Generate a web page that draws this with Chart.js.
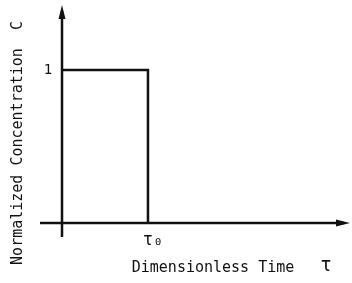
<!DOCTYPE html>
<html>
<head>
<meta charset="utf-8">
<script src="https://cdn.jsdelivr.net/npm/chart.js@4/dist/chart.umd.min.js"></script>
<style>
  html, body { margin: 0; padding: 0; background: #fff; }
  #wrap { width: 352px; height: 283px; }
</style>
</head>
<body>
<div id="wrap"><canvas id="c"></canvas></div>
<script>
// данные: прямоугольный импульс
const tau = [0, 1, 1];
const conc = [1, 1, 0];
const yTickVals = [1];
const yTickLabels = ['1'];
const xTickVals = [1];
const xTickLabels = ['τ₀'];

const FONT = '"DejaVu Sans Mono", "Liberation Mono", monospace';

// оси со стрелками и подписи
const axesPlugin = {
  id: 'axes',
  afterDraw(chart) {
    const { ctx, chartArea: a, scales: { x, y } } = chart;
    const x0 = x.getPixelForValue(0);
    const y0 = y.getPixelForValue(0);
    ctx.save();
    ctx.strokeStyle = '#111';
    ctx.fillStyle = '#111';
    ctx.lineWidth = 2.5;
    ctx.beginPath();
    ctx.moveTo(x0, a.bottom);
    ctx.lineTo(x0, a.top + 6);
    ctx.moveTo(a.left, y0);
    ctx.lineTo(a.right - 6, y0);
    ctx.stroke();
    // стрелки
    ctx.beginPath();
    ctx.moveTo(x0, a.top);
    ctx.lineTo(x0 - 3.5, a.top + 14);
    ctx.lineTo(x0 + 3.5, a.top + 14);
    ctx.closePath();
    ctx.fill();
    ctx.beginPath();
    ctx.moveTo(a.right, y0);
    ctx.lineTo(a.right - 14, y0 - 3.5);
    ctx.lineTo(a.right - 14, y0 + 3.5);
    ctx.closePath();
    ctx.fill();

    ctx.textBaseline = 'middle';
    ctx.font = '14px ' + FONT;
    ctx.textAlign = 'center';
    yTickVals.forEach((v, i) => {
      ctx.fillText(yTickLabels[i], x0 - 14, y.getPixelForValue(v));
    });
    ctx.font = '17px ' + FONT;
    xTickVals.forEach((v, i) => {
      ctx.fillText(xTickLabels[i], x.getPixelForValue(v) + 5, y0 + 18);
    });
    ctx.font = '15px ' + FONT;
    ctx.fillText('Dimensionless Time', 213, 268);
    ctx.font = '19px ' + FONT;
    ctx.fillText('τ', 326, 266);

    ctx.translate(18, 143);
    ctx.rotate(-Math.PI / 2);
    ctx.font = '15px ' + FONT;
    ctx.fillText('Normalized Concentration  C', 0, 0);
    ctx.restore();
  }
};

new Chart(document.getElementById('c'), {
  type: 'line',
  data: {
    datasets: [{
      data: tau.map((t, i) => ({ x: t, y: conc[i] })),
      borderColor: '#111',
      borderWidth: 2.5,
      pointRadius: 0,
      fill: false,
      tension: 0
    }]
  },
  options: {
    responsive: true,
    maintainAspectRatio: false,
    animation: false,
    layout: { padding: { left: 40, right: 2, top: 5, bottom: 46 } },
    plugins: { legend: { display: false }, tooltip: { enabled: false } },
    scales: {
      x: { type: 'linear', display: false, min: -0.256, max: 3.35 },
      y: { type: 'linear', display: false, min: -0.092, max: 1.425 }
    }
  },
  plugins: [axesPlugin]
});
</script>
</body>
</html>
